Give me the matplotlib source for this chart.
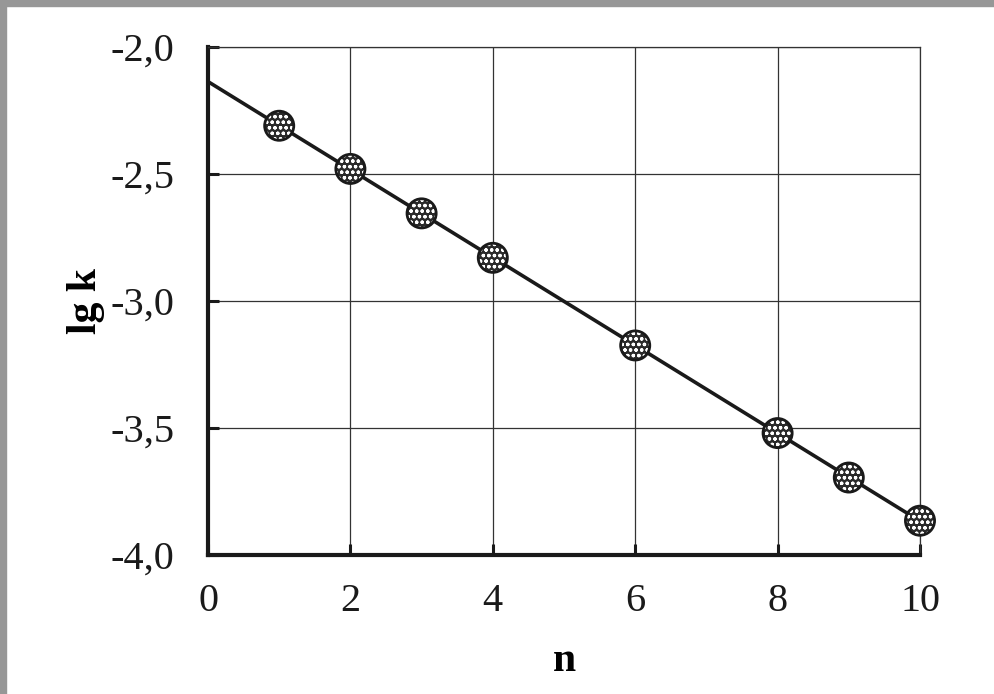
import matplotlib
matplotlib.use("Agg")
import matplotlib.pyplot as plt
import numpy as np
from matplotlib.patches import Rectangle

n_values = [1, 2, 3, 4, 6, 8, 9, 10]
lgk_values = [-2.31, -2.48, -2.655, -2.83, -3.175, -3.52, -3.695, -3.865]
x_ticks = [0, 2, 4, 6, 8, 10]
x_tick_labels = ["0", "2", "4", "6", "8", "10"]
y_ticks = [-4.0, -3.5, -3.0, -2.5, -2.0]
y_tick_labels = ["-4,0", "-3,5", "-3,0", "-2,5", "-2,0"]

plt.rcParams['font.family'] = ['Liberation Serif', 'DejaVu Serif']
plt.rcParams['hatch.linewidth'] = 0.9

fig = plt.figure(figsize=(9.94, 6.94), dpi=100)
fig.patch.set_facecolor('white')
# gray frame (left & top)
fig.patches.append(Rectangle((0, 0), 6/994, 1, transform=fig.transFigure, color='#979797', zorder=0))
fig.patches.append(Rectangle((0, 1 - 6/694), 1, 6/694, transform=fig.transFigure, color='#979797', zorder=0))

ax = fig.add_axes([208/994, 1 - 555/694, (920 - 208)/994, (555 - 47)/694])
ax.set_xlim(0, 10)
ax.set_ylim(-4.0, -2.0)

# regression line from the data
coef = np.polyfit(n_values, lgk_values, 1)
xl = np.array([0, 10])
ax.plot(xl, np.polyval(coef, xl), color='#1a1a1a', lw=2.6, zorder=3)

ax.scatter(n_values, lgk_values, s=440, facecolor='#2a2a2a', edgecolor='none',
           zorder=4, clip_on=False)
ax.scatter(n_values, lgk_values, s=440, facecolor='none', edgecolor='white',
           hatch='ooo', linewidths=0, zorder=5, clip_on=False)
ax.scatter(n_values, lgk_values, s=440, facecolor='none', edgecolor='#1a1a1a',
           linewidths=2.0, zorder=6, clip_on=False)

ax.set_xticks(x_ticks)
ax.set_xticklabels(x_tick_labels)
ax.set_yticks(y_ticks)
ax.set_yticklabels(y_tick_labels)
ax.grid(True, color='#333333', lw=0.9)
ax.set_axisbelow(True)

ax.tick_params(direction='in', length=8, width=2.2, colors='#1a1a1a', labelsize=29,
               top=False, right=False)
ax.tick_params(axis='y', pad=24)
ax.tick_params(axis='x', pad=20)

for side in ['left', 'bottom']:
    ax.spines[side].set_linewidth(3)
    ax.spines[side].set_color('#1a1a1a')
for side in ['top', 'right']:
    ax.spines[side].set_linewidth(0.9)
    ax.spines[side].set_color('#333333')

ax.set_xlabel('n', fontsize=30, fontweight='bold', labelpad=16)
ax.set_ylabel('lg k', fontsize=30, fontweight='bold', labelpad=4)

fig.savefig('out.png', dpi=100)
